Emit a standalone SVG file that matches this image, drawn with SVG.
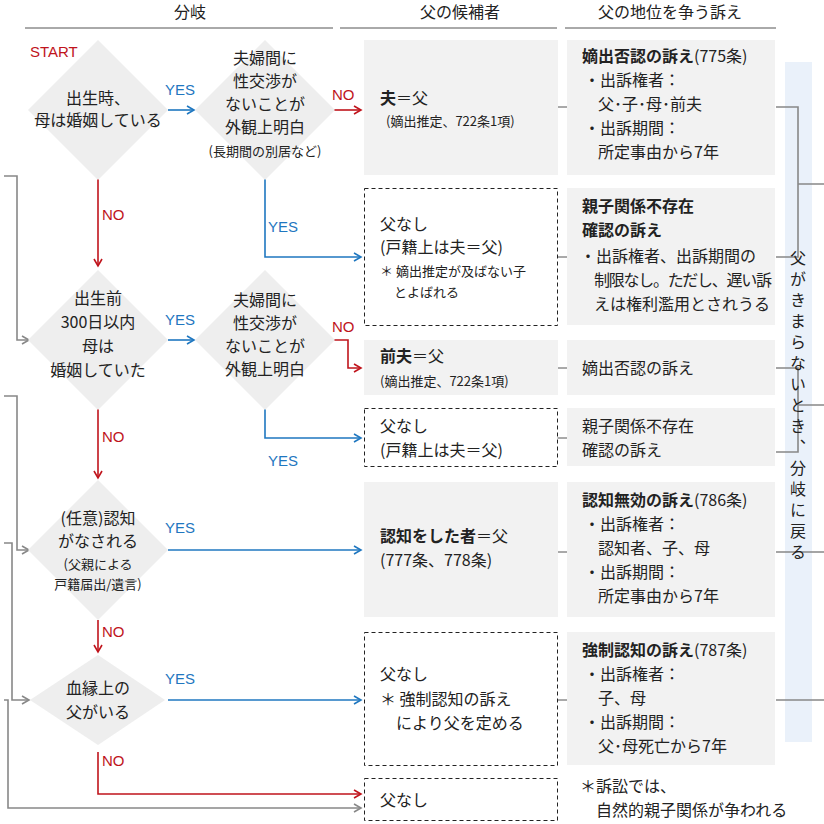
<svg xmlns="http://www.w3.org/2000/svg" width="824" height="824" viewBox="0 0 824 824">
<defs>
<style>
text{font-family:"Noto Sans CJK JP","Liberation Sans",sans-serif;font-size:16px;fill:#222}
.s{font-size:13px}
.b{font-weight:bold}
.dia{fill:#eeeeee}
.gb{fill:#f2f2f2}
.db{fill:#fff;stroke:#222;stroke-dasharray:4 3;stroke-width:1}
.blue{stroke:#1f77c0;fill:none;stroke-width:1.6}
.red{stroke:#c0141c;fill:none;stroke-width:1.6}
.gray{stroke:#888;fill:none;stroke-width:1.6}
.lk{stroke:#555;fill:none;stroke-width:1}
.yt{fill:#1f77c0;font-family:"Liberation Sans",sans-serif;font-size:15px}
.nt{fill:#c0141c;font-family:"Liberation Sans",sans-serif;font-size:15px}
</style>
<marker id="ab" markerWidth="10" markerHeight="10" refX="8" refY="5" orient="auto" markerUnits="userSpaceOnUse"><path d="M1,1 L8,5 L1,9" fill="none" stroke="#1f77c0" stroke-width="1.6"/></marker>
<marker id="ar" markerWidth="10" markerHeight="10" refX="8" refY="5" orient="auto" markerUnits="userSpaceOnUse"><path d="M1,1 L8,5 L1,9" fill="none" stroke="#c0141c" stroke-width="1.6"/></marker>
<marker id="ag" markerWidth="10" markerHeight="10" refX="8" refY="5" orient="auto" markerUnits="userSpaceOnUse"><path d="M1,1 L8,5 L1,9" fill="none" stroke="#888" stroke-width="1.6"/></marker>
</defs>
<rect width="824" height="824" fill="#fff"/>
<g id="header">
<text x="190" y="18" text-anchor="middle">分岐</text>
<text x="460" y="18" text-anchor="middle">父の候補者</text>
<text x="670" y="18" text-anchor="middle">父の地位を争う訴え</text>
<path d="M25,28H333M340,28H557M565,28H776" stroke="#555" stroke-width="1"/>
</g>
<rect x="785" y="62" width="27" height="680" fill="#eaf1fa"/>
<g id="connectors">
<path class="blue" d="M168,110H194" marker-end="url(#ab)"/>
<path class="red" d="M332,110H361" marker-end="url(#ar)"/>
<path class="red" d="M98,178V266" marker-end="url(#ar)"/>
<path class="blue" d="M265,175V257H361" marker-end="url(#ab)"/>
<path class="blue" d="M168,340H194" marker-end="url(#ab)"/>
<path class="red" d="M334,340H348V368H361" marker-end="url(#ar)"/>
<path class="blue" d="M265,407V438H361" marker-end="url(#ab)"/>
<path class="red" d="M98,408V478" marker-end="url(#ar)"/>
<path class="blue" d="M168,550H361" marker-end="url(#ab)"/>
<path class="red" d="M98,620V652" marker-end="url(#ar)"/>
<path class="blue" d="M168,700H361" marker-end="url(#ab)"/>
<path class="red" d="M98,752V794H361" marker-end="url(#ar)"/>
<path class="gray" d="M4,176H17V340H29" marker-end="url(#ag)"/>
<path class="gray" d="M4,396H17V550H29" marker-end="url(#ag)"/>
<path class="gray" d="M4,543H12V700H29" marker-end="url(#ag)"/>
<path class="gray" d="M4,700H8V808H361" marker-end="url(#ag)"/>
<path class="lk" d="M557,107H567M557,257H567M557,368H567M557,438H567M557,552H567M557,700H567"/>
<path class="gray" stroke-width="1" d="M776,107H798V257H776M798,184H824M776,368H798V452H776M798,405H824M776,552H824M776,700H824"/>
<text x="165" y="95" class="yt">YES</text><text x="332" y="100" class="nt">NO</text>
<text x="102" y="220" class="nt">NO</text><text x="268" y="232" class="yt">YES</text>
<text x="165" y="325" class="yt">YES</text><text x="332" y="332" class="nt">NO</text>
<text x="102" y="442" class="nt">NO</text><text x="268" y="466" class="yt">YES</text>
<text x="165" y="533" class="yt">YES</text><text x="102" y="637" class="nt">NO</text>
<text x="165" y="684" class="yt">YES</text><text x="102" y="766" class="nt">NO</text>
</g>
<text x="798" y="250" style="writing-mode:vertical-rl" font-size="19" letter-spacing="5">父がきまらないとき、分岐に戻る</text>
<g id="d1"><path class="dia" d="M98,40 L168,110 L98,180 L28,110Z"/>
<text x="30" y="57" class="nt" font-size="13">START</text>
<text x="98" y="104" text-anchor="middle">出生時、</text><text x="98" y="126" text-anchor="middle">母は婚姻している</text></g>
<g id="dA"><path class="dia" d="M265,40 L335,110 L265,180 L195,110Z"/>
<text x="265" y="64" text-anchor="middle">夫婦間に</text><text x="265" y="87" text-anchor="middle">性交渉が</text><text x="265" y="110" text-anchor="middle">ないことが</text><text x="265" y="133" text-anchor="middle">外観上明白</text><text x="265" y="156" text-anchor="middle" class="s">(長期間の別居など)</text></g>
<g id="d2"><path class="dia" d="M98,270 L168,340 L98,410 L28,340Z"/>
<text x="98" y="304" text-anchor="middle">出生前</text><text x="98" y="328" text-anchor="middle">300日以内</text><text x="98" y="352" text-anchor="middle">母は</text><text x="98" y="376" text-anchor="middle">婚姻していた</text></g>
<g id="dB"><path class="dia" d="M265,270 L335,340 L265,410 L195,340Z"/>
<text x="265" y="306" text-anchor="middle">夫婦間に</text><text x="265" y="329" text-anchor="middle">性交渉が</text><text x="265" y="352" text-anchor="middle">ないことが</text><text x="265" y="375" text-anchor="middle">外観上明白</text></g>
<g id="d3"><path class="dia" d="M98,480 L168,550 L98,620 L28,550Z"/>
<text x="98" y="524" text-anchor="middle">(任意)認知</text><text x="98" y="547" text-anchor="middle">がなされる</text><text x="98" y="569" text-anchor="middle" class="s">(父親による</text><text x="98" y="589" text-anchor="middle" class="s">戸籍届出/遺言)</text></g>
<g id="d4"><path class="dia" d="M98,655 L165,700 L98,745 L30,700Z"/>
<text x="98" y="694" text-anchor="middle">血縁上の</text><text x="98" y="718" text-anchor="middle">父がいる</text></g>
<g id="c1"><rect class="gb" x="364" y="40" width="194" height="135"/>
<text x="380" y="104"><tspan class="b">夫</tspan>＝父</text><text x="386" y="126" class="s">(嫡出推定、722条1項)</text></g>
<g id="c2"><rect class="db" x="364.5" y="188.5" width="193" height="137"/>
<text x="380" y="230">父なし</text><text x="380" y="253">(戸籍上は夫＝父)</text><text x="380" y="276" class="s">＊ 嫡出推定が及ばない子</text><text x="394" y="297" class="s">とよばれる</text></g>
<g id="c3"><rect class="gb" x="364" y="340" width="194" height="55"/>
<text x="380" y="362"><tspan class="b">前夫</tspan>＝父</text><text x="380" y="386" class="s">(嫡出推定、722条1項)</text></g>
<g id="c4"><rect class="db" x="364.5" y="408.5" width="193" height="58"/>
<text x="380" y="432">父なし</text><text x="380" y="456">(戸籍上は夫＝父)</text></g>
<g id="c5"><rect class="gb" x="364" y="482" width="194" height="135"/>
<text x="380" y="542"><tspan class="b">認知をした者</tspan>＝父</text><text x="380" y="566">(777条、778条)</text></g>
<g id="c6"><rect class="db" x="364.5" y="632.5" width="193" height="133"/>
<text x="380" y="680">父なし</text><text x="380" y="705">＊ 強制認知の訴え</text><text x="396" y="729">により父を定める</text></g>
<g id="c7"><rect class="db" x="364.5" y="778.5" width="193" height="42"/>
<text x="380" y="806">父なし</text></g>
<g id="r1"><rect class="gb" x="567" y="40" width="208" height="135"/>
<text x="582" y="62"><tspan class="b">嫡出否認の訴え</tspan>(775条)</text><text x="584" y="86">・出訴権者：</text><text x="598" y="110">父･子･母･前夫</text><text x="584" y="134">・出訴期間：</text><text x="598" y="158">所定事由から7年</text></g>
<g id="r2"><rect class="gb" x="567" y="188" width="208" height="137"/>
<text x="582" y="212" class="b">親子関係不存在</text><text x="582" y="236" class="b">確認の訴え</text><text x="580" y="262">・出訴権者、出訴期間の</text><text x="594" y="286" textLength="178">制限なし。ただし、遅い訴</text><text x="594" y="310">えは権利濫用とされうる</text></g>
<g id="r3"><rect class="gb" x="567" y="340" width="208" height="55"/>
<text x="582" y="374">嫡出否認の訴え</text></g>
<g id="r4"><rect class="gb" x="567" y="408" width="208" height="58"/>
<text x="582" y="432">親子関係不存在</text><text x="582" y="456">確認の訴え</text></g>
<g id="r5"><rect class="gb" x="567" y="482" width="208" height="135"/>
<text x="582" y="506"><tspan class="b">認知無効の訴え</tspan>(786条)</text><text x="584" y="530">・出訴権者：</text><text x="598" y="554">認知者、子、母</text><text x="584" y="578">・出訴期間：</text><text x="598" y="602">所定事由から7年</text></g>
<g id="r6"><rect class="gb" x="567" y="632" width="208" height="133"/>
<text x="582" y="656"><tspan class="b">強制認知の訴え</tspan>(787条)</text><text x="584" y="680">・出訴権者：</text><text x="598" y="704">子、母</text><text x="584" y="728">・出訴期間：</text><text x="598" y="752">父･母死亡から7年</text></g>
<g id="r7"><text x="580" y="792">＊訴訟では、</text><text x="596" y="816">自然的親子関係が争われる</text></g>
</svg>
